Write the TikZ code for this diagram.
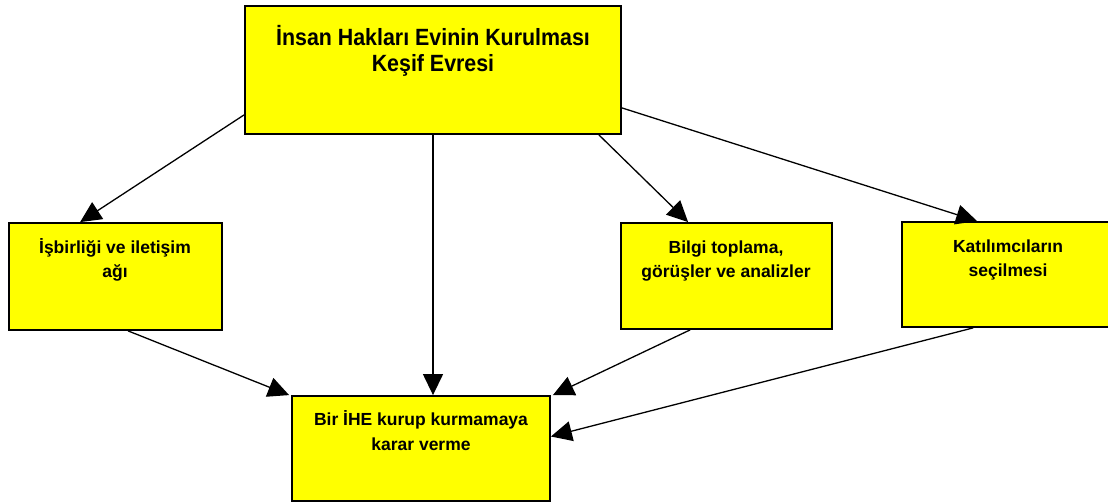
\documentclass[tikz,border=0pt]{standalone}
\usepackage{fontspec}
\setmainfont{Liberation Sans}
\newfontfamily\topfont[FakeStretch=0.91]{Liberation Sans}
\usetikzlibrary{arrows.meta,calc}
\definecolor{boxyellow}{RGB}{255,255,0}
\begin{document}
\begin{tikzpicture}[x=1pt,y=-1pt,
  box/.style={draw=black,line width=1.8pt,fill=boxyellow,inner sep=0pt},
  txt/.style={align=center,inner sep=0pt,anchor=base,font=\bfseries\fontsize{17.5}{24.5}\selectfont},
  bigtxt/.style={align=center,inner sep=0pt,anchor=base,font=\topfont\bfseries\fontsize{23.5}{26}\selectfont},
  arr/.style={line width=1.3pt,-{Triangle[length=21pt,width=20pt]}}]
\useasboundingbox (0,0) rectangle (1108,502);
\node[box,minimum width=376pt,minimum height=128pt] (top) at (433,70) {};
\node[box,minimum width=213pt,minimum height=107pt] (left) at (115.5,276.5) {};
\node[box,minimum width=211pt,minimum height=106pt] (mid) at (726.5,276) {};
\node[box,minimum width=212pt,minimum height=105pt] (right) at (1008,274.5) {};
\node[box,minimum width=258pt,minimum height=105pt] (bot) at (421,448.5) {};
\node[bigtxt] (toptext) at (433,72) {İnsan Hakları Evinin Kurulması\\Keşif Evresi};
\node[txt] (lefttext) at (115,278) {İşbirliği ve iletişim\\ağı};
\node[txt] (midtext) at (726,278) {Bilgi toplama,\\görüşler ve analizler};
\node[txt] (righttext) at (1008,277) {Katılımcıların\\seçilmesi};
\node[txt] (bottext) at (421,450) {Bir İHE kurup kurmamaya\\karar verme};
\draw[arr] ($(top.south west)+(0,-20)$) -- ($(left.north west)+(72,0)$);
\draw[arr] (top.south) -- (top.south |- bot.north);
\draw[arr] ($(top.south east)+(-23,0)$) -- ($(mid.north west)+(68,0)$);
\draw[arr] ($(top.south east)+(0,-27)$) -- ($(right.north west)+(76,0)$);
\draw[arr] ($(left.south west)+(120,0)$) -- ($(bot.north west)+(-2,0)$);
\draw[arr] ($(mid.south west)+(70,0)$) -- ($(bot.north east)+(2,0)$);
\draw[arr] ($(right.south west)+(72,0)$) -- ($(bot.east)+(0,-12)$);
\end{tikzpicture}
\end{document}
